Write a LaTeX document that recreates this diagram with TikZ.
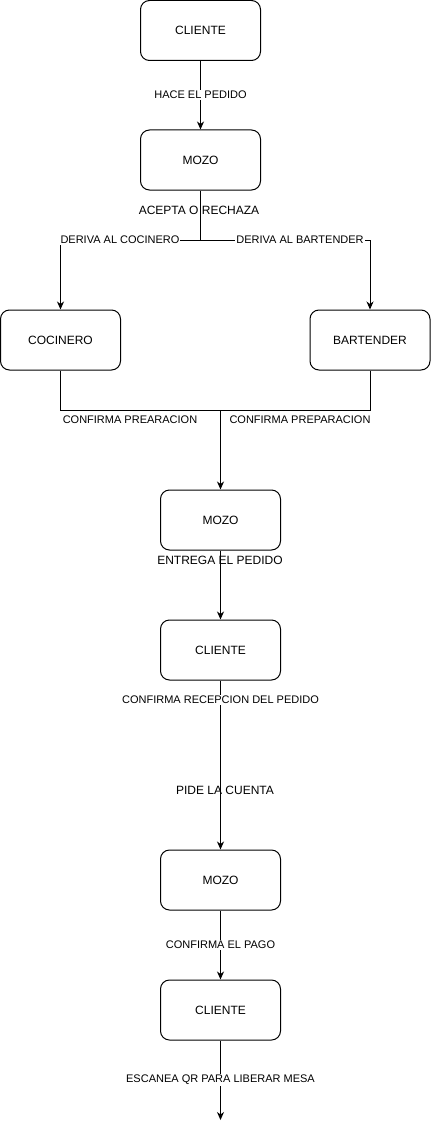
\documentclass[tikz,border=0pt]{standalone}
\usepackage{fontspec}
\setmainfont{Liberation Sans}
\usetikzlibrary{arrows.meta}
\tikzset{
  box/.style={draw, line width=1pt, rounded corners=9pt, minimum width=120pt, minimum height=60pt, inner sep=0pt, font=\fontsize{12}{14}\selectfont},
  conn/.style={line width=1pt},
  arr/.style={line width=1pt, -{Stealth[length=8pt,width=7pt,inset=2.5pt]}},
  elabel/.style={fill=white, inner sep=1pt, font=\fontsize{11}{13}\selectfont},
  flabel/.style={inner sep=0pt, font=\fontsize{12}{14}\selectfont},
  slabel/.style={inner sep=0pt, font=\fontsize{11}{13}\selectfont}
}
\begin{document}
\begin{tikzpicture}[x=1pt,y=-1pt]
\useasboundingbox (0,0) rectangle (431,1129);
\node[box] (c1) at (200.5,30.5) {CLIENTE};
\node[box] (m1) at (200.5,160) {MOZO};
\node[box] (coc) at (60.5,340) {COCINERO};
\node[box] (bar) at (370,340) {BARTENDER};
\node[box] (m2) at (220.5,520) {MOZO};
\node[box] (c2) at (220.5,650) {CLIENTE};
\node[box] (m3) at (220.5,880) {MOZO};
\node[box] (c3) at (220.5,1010) {CLIENTE};
\coordinate (split) at (200.5,240);
\coordinate (join) at (220.5,410);
\coordinate (end) at (220.5,1120);

\draw[arr] (c1) -- (m1);
\draw[conn] (m1.south) -- (split);
\draw[arr] (split) -| (coc.north);
\draw[arr] (split) -| (bar.north);
\draw[conn] (coc.south) |- (join);
\draw[conn] (bar.south) |- (join);
\draw[arr] (join) -- (m2.north);
\draw[arr] (m2) -- (c2);
\draw[arr] (c2) -- (m3);
\draw[arr] (m3) -- (c3);
\draw[arr] (c3.south) -- (end);

\node[elabel] (l1) at (200.5,95) {HACE EL PEDIDO};
\node[flabel] (l2) at (199,210) {ACEPTA O RECHAZA};
\node[elabel] (l3) at (120,240) {DERIVA AL COCINERO};
\node[elabel] (l4) at (300,240) {DERIVA AL BARTENDER};
\node[slabel] (l5) at (130,420) {CONFIRMA PREARACION};
\node[slabel] (l6) at (300,420) {CONFIRMA PREPARACION};
\node[flabel] (l7) at (220,560) {ENTREGA EL PEDIDO};
\node[elabel] (l8) at (220.5,700) {CONFIRMA RECEPCION DEL PEDIDO};
\node[flabel] (l9) at (225,790.5) {PIDE LA CUENTA};
\node[elabel] (l10) at (220.5,945) {CONFIRMA EL PAGO};
\node[elabel] (l11) at (220.5,1080) {ESCANEA QR PARA LIBERAR MESA};
\end{tikzpicture}
\end{document}
